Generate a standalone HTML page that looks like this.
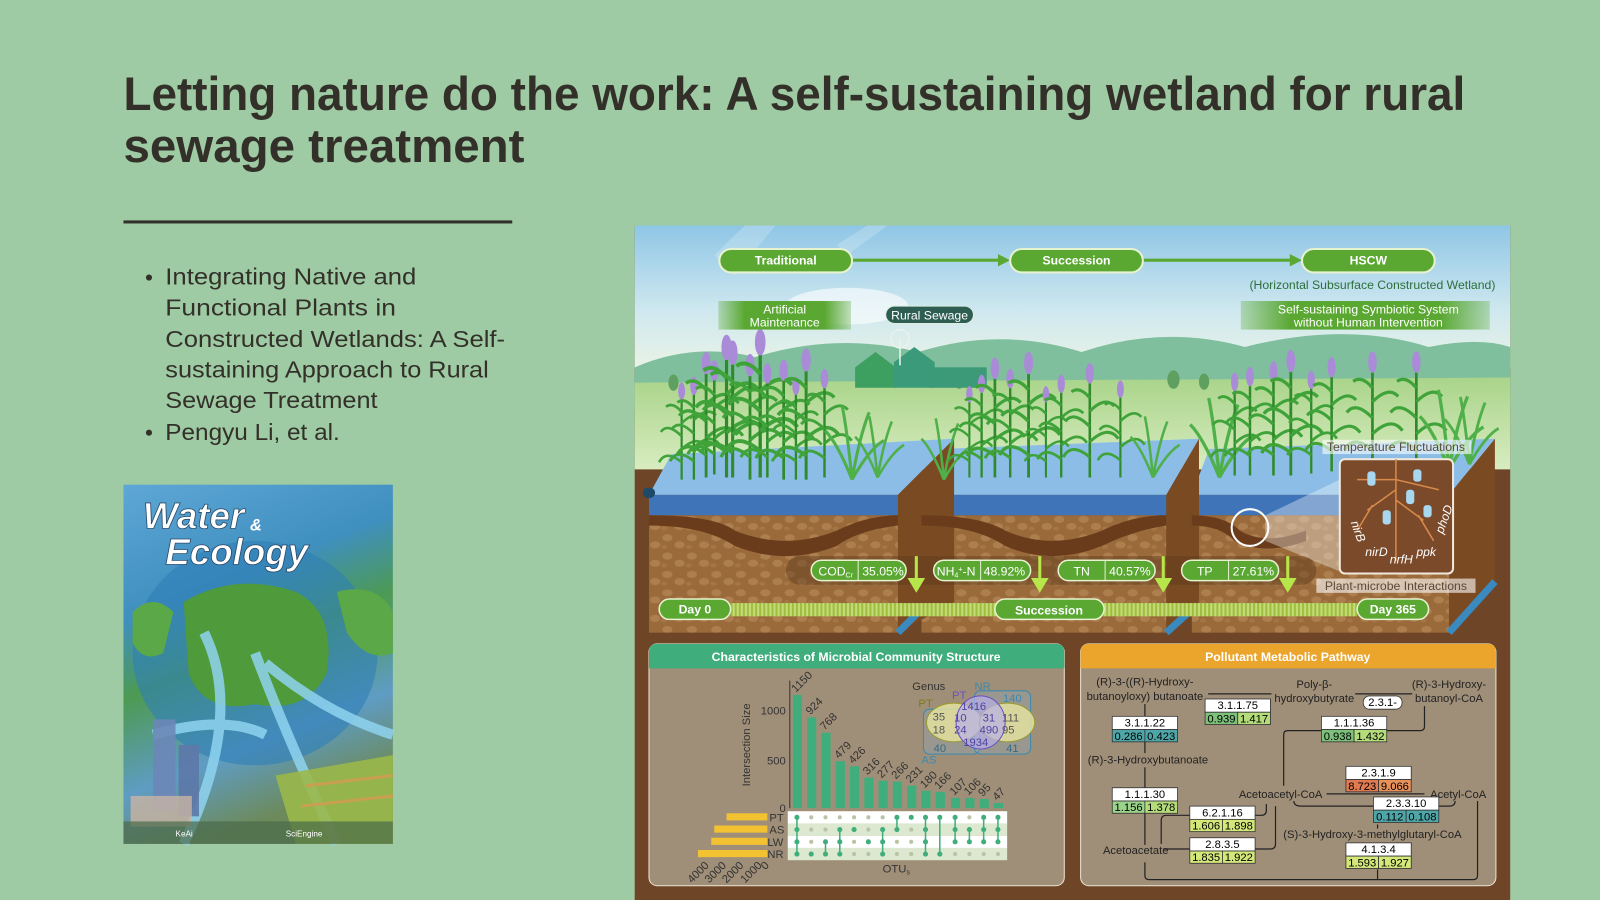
<!DOCTYPE html>
<html><head><meta charset="utf-8"><style>
html,body{margin:0;padding:0;background:#9ecba3;width:1600px;height:900px;overflow:hidden}
svg{display:block}
text{font-family:"Liberation Sans",sans-serif}
</style></head><body>
<svg width="1600" height="900" viewBox="0 0 1568 882" xmlns="http://www.w3.org/2000/svg">
<defs>
<linearGradient id="sky" x1="0" y1="0" x2="0" y2="1"><stop offset="0" stop-color="#8fc6e6"/><stop offset="0.6" stop-color="#cfe8ef"/><stop offset="1" stop-color="#e9f3e6"/></linearGradient>
<linearGradient id="field" x1="0" y1="0" x2="0" y2="1"><stop offset="0" stop-color="#a9d48a"/><stop offset="1" stop-color="#d8ecc0"/></linearGradient>
<linearGradient id="gbox" x1="0" y1="0" x2="1" y2="0"><stop offset="0" stop-color="#5aa832" stop-opacity="0.3"/><stop offset="0.2" stop-color="#5aa832"/><stop offset="0.8" stop-color="#5aa832"/><stop offset="1" stop-color="#5aa832" stop-opacity="0.3"/></linearGradient>
<pattern id="pebble" width="24" height="18" patternUnits="userSpaceOnUse"><rect width="24" height="18" fill="#9a6a3a"/><ellipse cx="6" cy="5" rx="5" ry="3.5" fill="#ad7f4e"/><ellipse cx="18" cy="12" rx="5" ry="3.5" fill="#ad7f4e"/><ellipse cx="3" cy="14" rx="3" ry="2" fill="#a57545"/></pattern>
<linearGradient id="cover" x1="0" y1="0" x2="0.3" y2="1"><stop offset="0" stop-color="#5ea7d6"/><stop offset="0.35" stop-color="#3f8fbf"/><stop offset="0.55" stop-color="#4d9a52"/><stop offset="0.8" stop-color="#5f9cc4"/><stop offset="1" stop-color="#6c8a5a"/></linearGradient>
<pattern id="stripe" width="4" height="20" patternUnits="userSpaceOnUse"><rect width="4" height="20" fill="#c8da7a"/><rect width="2" height="20" fill="#9cbf3e"/></pattern>
<g id="plant">
<path d="M0 0 L0 -95" stroke="#2f8a2a" stroke-width="2.5" fill="none"/>
<path d="M0 -20 Q-18 -35 -26 -20 M0 -35 Q18 -52 28 -38 M0 -50 Q-16 -66 -24 -55 M0 -65 Q15 -80 24 -70 M0 -78 Q-10 -90 -18 -84" stroke="#3fa33a" stroke-width="3" fill="none"/>
<ellipse cx="0" cy="-102" rx="4" ry="10" fill="#a98bd8"/>
</g>
<g id="grass">
<path d="M0 0 Q-12 -30 -22 -40 M0 0 Q-4 -40 -8 -60 M0 0 Q6 -35 14 -55 M0 0 Q14 -25 26 -32" stroke="#4fb04a" stroke-width="2.5" fill="none"/>
</g>
</defs>

<text x="121" y="108" font-size="46" font-weight="bold" fill="#33302a" textLength="1315" lengthAdjust="spacingAndGlyphs">Letting nature do the work: A self-sustaining wetland for rural</text>
<text x="121" y="159" font-size="46" font-weight="bold" fill="#33302a" textLength="393" lengthAdjust="spacingAndGlyphs">sewage treatment</text>
<rect x="121" y="216" width="381" height="3" fill="#33302a"/>

<g font-size="23" fill="#33302a">
<circle cx="146" cy="272" r="3"/>
<text x="162" y="279" textLength="246" lengthAdjust="spacingAndGlyphs">Integrating Native and</text>
<text x="162" y="309" textLength="226" lengthAdjust="spacingAndGlyphs">Functional Plants in</text>
<text x="162" y="340" textLength="333" lengthAdjust="spacingAndGlyphs">Constructed Wetlands: A Self-</text>
<text x="162" y="370" textLength="317" lengthAdjust="spacingAndGlyphs">sustaining Approach to Rural</text>
<text x="162" y="400" textLength="208" lengthAdjust="spacingAndGlyphs">Sewage Treatment</text>
<circle cx="146" cy="424" r="3"/>
<text x="162" y="431" textLength="171" lengthAdjust="spacingAndGlyphs">Pengyu Li, et al.</text>
</g>

<!-- cover -->
<rect x="121" y="475" width="264" height="352" fill="url(#cover)"/>
<ellipse cx="250" cy="640" rx="120" ry="110" fill="#2f7fb8" opacity="0.6"/>
<path d="M180 590 Q230 560 290 580 Q330 600 320 660 Q300 700 250 690 Q200 700 185 660 Z" fill="#4f9a3a"/>
<path d="M130 600 Q150 580 170 600 L160 640 Q140 650 130 630Z" fill="#5aa848"/>
<path d="M330 580 Q370 570 385 600 L385 640 Q360 650 340 620Z" fill="#5aa848"/>
<path d="M200 620 Q240 700 180 827 M250 640 Q280 720 330 827 M260 650 Q320 700 385 720 M150 720 Q220 700 260 720" stroke="#8fd3f0" stroke-width="10" fill="none" opacity="0.85"/>
<rect x="150" y="705" width="22" height="90" fill="#6b87b8" opacity="0.9"/>
<rect x="175" y="730" width="20" height="70" fill="#5d78a8" opacity="0.9"/>
<rect x="128" y="780" width="60" height="30" fill="#c9b4a4" opacity="0.8"/>
<path d="M270 760 L385 740 L385 827 L290 827Z" fill="#9ab84a" opacity="0.9"/>
<path d="M300 770 L385 760 M295 790 L385 780" stroke="#c8a050" stroke-width="3"/>
<rect x="121" y="805" width="264" height="22" fill="#4a6a4a" opacity="0.7"/>
<text x="140" y="518" font-size="36" font-weight="bold" font-style="italic" fill="#fff" stroke="#2a4a6a" stroke-width="0.8">Water</text>
<text x="245" y="520" font-size="16" font-weight="bold" font-style="italic" fill="#fff">&amp;</text>
<text x="162" y="553" font-size="36" font-weight="bold" font-style="italic" fill="#fff" stroke="#2a4a6a" stroke-width="0.8">Ecology</text>
<text x="172" y="820" font-size="8" fill="#fff">KeAi</text>
<text x="280" y="820" font-size="8" fill="#fff">SciEngine</text>

<!-- FIGURE -->
<rect x="622" y="221" width="858" height="661" fill="#6e4526"/>
<rect x="622" y="221" width="858" height="140" fill="url(#sky)"/>
<path d="M700 250 L730 221 L760 221 L720 270Z M820 240 L850 221 L870 221 L830 250Z" fill="#fff" opacity="0.2"/>
<ellipse cx="830" cy="300" rx="60" ry="18" fill="#fff" opacity="0.6"/>
<path d="M622 360 Q680 335 740 350 Q820 325 900 345 Q980 320 1060 345 Q1140 318 1220 340 Q1320 315 1400 340 Q1450 330 1480 340 L1480 400 L622 400Z" fill="#7fbf9e"/>
<path d="M622 375 L1480 370 L1480 460 L622 460Z" fill="url(#field)"/>
<g fill="#5fa060"><ellipse cx="660" cy="375" rx="5" ry="8"/><ellipse cx="940" cy="372" rx="5" ry="9"/><ellipse cx="1150" cy="372" rx="6" ry="9"/><ellipse cx="1180" cy="374" rx="5" ry="8"/></g>
<path d="M838 380 L838 360 L858 345 L878 360 L878 380Z" fill="#3da060"/>
<path d="M876 380 L876 355 L896 340 L916 355 L916 380Z" fill="#3a9a7a"/>
<rect x="912" y="360" width="55" height="20" fill="#3c9a78"/>
<circle cx="882" cy="332" r="9" fill="none" stroke="#e8f3ee" stroke-width="1.5"/>
<line x1="882" y1="332" x2="882" y2="358" stroke="#e8f3ee" stroke-width="1.5"/>
<g>
<path d="M636 485 L658 445 L935 430 L880 485Z" fill="#8bbde6"/>
<path d="M903 485 L922 440 L1175 430 L1143 485Z" fill="#8bbde6"/>
<path d="M1168 485 L1185 440 L1465 430 L1420 485Z" fill="#8bbde6"/>
<rect x="636" y="485" width="244" height="20" fill="#3f75b8"/>
<rect x="903" y="485" width="240" height="20" fill="#3f75b8"/>
<rect x="1168" y="485" width="252" height="20" fill="#3f75b8"/>
<rect x="636" y="505" width="244" height="115" fill="url(#pebble)"/>
<rect x="903" y="505" width="240" height="115" fill="url(#pebble)"/>
<rect x="1168" y="505" width="252" height="115" fill="url(#pebble)"/>
<path d="M880 485 L935 430 L935 590 L880 620Z M1143 485 L1175 430 L1175 590 L1143 620Z M1420 485 L1465 430 L1465 575 L1420 620Z" fill="#7a4a22"/>
<path d="M636 505 Q700 505 720 520 Q770 540 820 520 Q850 505 880 505 L880 515 Q840 520 820 535 Q770 555 720 535 Q690 515 636 515Z" fill="#6a3c1c"/>
<path d="M903 505 Q960 505 985 520 Q1030 540 1080 520 Q1110 505 1143 505 L1143 515 Q1110 520 1080 535 Q1030 555 985 535 Q955 515 903 515Z" fill="#6a3c1c"/>
<path d="M1168 505 Q1200 505 1215 520 Q1240 535 1280 520 L1280 530 Q1240 545 1210 530 Q1195 515 1168 515Z" fill="#6a3c1c"/>
<circle cx="1225" cy="517" r="18" fill="none" stroke="#fff" stroke-width="2"/>
<path d="M1240 505 L1313 470 L1313 560 L1240 530Z" fill="#fff" opacity="0.35"/>
<rect x="630" y="478" width="12" height="10" rx="5" fill="#1e4a6a"/>
<path d="M1420 620 L1465 570" stroke="#3a8ac0" stroke-width="7"/>
<path d="M880 620 L900 600 M1143 620 L1165 600" stroke="#3a8ac0" stroke-width="7"/>
</g>
<g>
<use href="#plant" transform="translate(668,470) scale(0.85)"/>
<use href="#plant" transform="translate(680,470) scale(0.9)"/>
<use href="#plant" transform="translate(692,468) scale(1.1)"/>
<use href="#plant" transform="translate(700,465) scale(1.0)"/>
<use href="#plant" transform="translate(712,468) scale(1.25)"/>
<use href="#plant" transform="translate(718,468) scale(1.2)"/>
<use href="#plant" transform="translate(735,470) scale(1.1)"/>
<use href="#plant" transform="translate(745,468) scale(1.3)"/>
<use href="#plant" transform="translate(752,468) scale(1.0)"/>
<use href="#plant" transform="translate(768,470) scale(1.05)"/>
<use href="#plant" transform="translate(780,470) scale(0.9)"/>
<use href="#plant" transform="translate(790,470) scale(1.15)"/>
<use href="#plant" transform="translate(808,468) scale(0.95)"/>
<use href="#grass" transform="translate(835,470) scale(1.2)"/>
<use href="#grass" transform="translate(860,468)"/>
<use href="#grass" transform="translate(925,470)"/>
<use href="#plant" transform="translate(950,468) scale(0.8)"/>
<use href="#plant" transform="translate(962,468) scale(0.9)"/>
<use href="#plant" transform="translate(975,468) scale(1.05)"/>
<use href="#plant" transform="translate(990,468) scale(0.95)"/>
<use href="#plant" transform="translate(1008,468) scale(1.1)"/>
<use href="#plant" transform="translate(1025,468) scale(0.8)"/>
<use href="#plant" transform="translate(1040,468) scale(0.9)"/>
<use href="#plant" transform="translate(1068,468) scale(1.0)"/>
<use href="#plant" transform="translate(1098,468) scale(0.85)"/>
<use href="#grass" transform="translate(1130,468)"/>
<use href="#grass" transform="translate(1195,468) scale(1.3)"/>
<use href="#plant" transform="translate(1210,466) scale(0.9)"/>
<use href="#plant" transform="translate(1225,466) scale(0.95)"/>
<use href="#plant" transform="translate(1248,466) scale(1.0)"/>
<use href="#plant" transform="translate(1265,466) scale(1.1)"/>
<use href="#plant" transform="translate(1285,464) scale(0.9)"/>
<use href="#plant" transform="translate(1305,462) scale(1.0)"/>
<use href="#plant" transform="translate(1345,462) scale(1.05)"/>
<use href="#plant" transform="translate(1388,462) scale(1.05)"/>
<use href="#grass" transform="translate(1420,460) scale(1.3)"/>
<use href="#grass" transform="translate(1440,455) scale(1.1)"/>
</g>
<line x1="834" y1="255" x2="982" y2="255" stroke="#5aa832" stroke-width="3"/>
<path d="M978 249 L990 255 L978 261Z" fill="#5aa832"/>
<line x1="1120" y1="255" x2="1268" y2="255" stroke="#5aa832" stroke-width="3"/>
<path d="M1264 249 L1276 255 L1264 261Z" fill="#5aa832"/>
<g font-size="12" font-weight="bold" fill="#fff" text-anchor="middle">
<rect x="705" y="244" width="130" height="23" rx="11.5" fill="#5aa832" stroke="#e6f2d0" stroke-width="2"/>
<text x="770" y="259">Traditional</text>
<rect x="990" y="244" width="130" height="23" rx="11.5" fill="#5aa832" stroke="#e6f2d0" stroke-width="2"/>
<text x="1055" y="259">Succession</text>
<rect x="1276" y="244" width="130" height="23" rx="11.5" fill="#5aa832" stroke="#e6f2d0" stroke-width="2"/>
<text x="1341" y="259">HSCW</text>
</g>
<text x="1345" y="283" font-size="12" fill="#2e6e3a" text-anchor="middle">(Horizontal Subsurface Constructed Wetland)</text>
<rect x="704" y="295" width="130" height="28" fill="url(#gbox)"/>
<text x="769" y="307" font-size="12" fill="#fff" text-anchor="middle">Artificial</text>
<text x="769" y="320" font-size="12" fill="#fff" text-anchor="middle">Maintenance</text>
<rect x="1216" y="295" width="244" height="28" fill="url(#gbox)"/>
<text x="1341" y="307" font-size="12" fill="#fff" text-anchor="middle">Self-sustaining Symbiotic System</text>
<text x="1341" y="320" font-size="12" fill="#fff" text-anchor="middle">without Human Intervention</text>
<rect x="868" y="300" width="86" height="17" rx="8.5" fill="#2e5e52" stroke="#dbeee0"/>
<text x="911" y="313" font-size="12" fill="#fff" text-anchor="middle">Rural Sewage</text>
<rect x="1296" y="431" width="146" height="14" fill="#fff" opacity="0.6"/>
<text x="1368" y="442" font-size="12" fill="#5a4a3a" text-anchor="middle">Temperature Fluctuations</text>
<rect x="1313" y="450" width="111" height="112" rx="5" fill="#7a4a2a" stroke="#f0e8dc" stroke-width="2"/>
<path d="M1368 450 L1368 550 M1368 480 L1340 500 M1368 490 L1395 510 M1368 470 L1330 470 M1368 470 L1410 480 M1345 495 L1330 520 M1390 505 L1405 530" stroke="#d98a4a" stroke-width="1.5" fill="none"/>
<g fill="#a8d8f0"><rect x="1340" y="462" width="8" height="14" rx="3"/><rect x="1378" y="480" width="8" height="14" rx="3"/><rect x="1355" y="500" width="8" height="14" rx="3"/><rect x="1395" y="495" width="8" height="12" rx="3"/><rect x="1385" y="460" width="8" height="12" rx="3"/></g>
<g font-size="12" font-style="italic" fill="#fff"><text x="1325" y="520" transform="rotate(70 1330 515)">nirB</text><text x="1338" y="545">nirD</text><text x="1362" y="552">nrfH</text><text x="1388" y="545">ppk</text><text x="1408" y="525" transform="rotate(-70 1410 520)">phoD</text></g>
<rect x="1290" y="567" width="156" height="14" fill="#fff" opacity="0.6"/>
<text x="1368" y="578" font-size="12" fill="#5a4a3a" text-anchor="middle">Plant-microbe Interactions</text>
<rect x="770" y="545" width="520" height="28" rx="14" fill="#5a3a1c" opacity="0.45"/>
<g font-size="12" fill="#fff">
<rect x="795" y="549" width="93" height="20" rx="10" fill="#5aa832" stroke="#e6f2d0" stroke-width="1.5"/><line x1="841" y1="549" x2="841" y2="569" stroke="#e6f2d0"/>
<text x="802" y="564">COD<tspan font-size="7" dy="2">Cr</tspan></text><text x="845" y="564">35.05%</text>
<rect x="915" y="549" width="95" height="20" rx="10" fill="#5aa832" stroke="#e6f2d0" stroke-width="1.5"/><line x1="961" y1="549" x2="961" y2="569" stroke="#e6f2d0"/>
<text x="918" y="564">NH<tspan font-size="7" dy="2">4</tspan><tspan font-size="7" dy="-6">+</tspan><tspan dy="4">-N</tspan></text><text x="964" y="564">48.92%</text>
<rect x="1037" y="549" width="95" height="20" rx="10" fill="#5aa832" stroke="#e6f2d0" stroke-width="1.5"/><line x1="1083" y1="549" x2="1083" y2="569" stroke="#e6f2d0"/>
<text x="1052" y="564">TN</text><text x="1087" y="564">40.57%</text>
<rect x="1158" y="549" width="95" height="20" rx="10" fill="#5aa832" stroke="#e6f2d0" stroke-width="1.5"/><line x1="1204" y1="549" x2="1204" y2="569" stroke="#e6f2d0"/>
<text x="1173" y="564">TP</text><text x="1208" y="564">27.61%</text>
</g>
<g stroke="#b6e64a" stroke-width="3" fill="#b6e64a">
<line x1="898" y1="545" x2="898" y2="570"/><path d="M892 568 L898 578 L904 568Z"/>
<line x1="1019" y1="545" x2="1019" y2="570"/><path d="M1013 568 L1019 578 L1025 568Z"/>
<line x1="1140" y1="545" x2="1140" y2="570"/><path d="M1134 568 L1140 578 L1146 568Z"/>
<line x1="1262" y1="545" x2="1262" y2="570"/><path d="M1256 568 L1262 578 L1268 568Z"/>
</g>
<rect x="716" y="591" width="614" height="13" fill="url(#stripe)"/>
<g font-size="12" font-weight="bold" fill="#fff" text-anchor="middle">
<rect x="646" y="587" width="70" height="20" rx="10" fill="#5aa832" stroke="#e6f2d0" stroke-width="1.5"/><text x="681" y="601">Day 0</text>
<rect x="975" y="587" width="107" height="20" rx="10" fill="#5aa832" stroke="#e6f2d0" stroke-width="1.5"/><text x="1028" y="602">Succession</text>
<rect x="1330" y="587" width="70" height="20" rx="10" fill="#5aa832" stroke="#e6f2d0" stroke-width="1.5"/><text x="1365" y="601">Day 365</text>
</g>

<rect x="636" y="631" width="407" height="237" rx="8" fill="#a08f78" stroke="#eee3d0"/>
<path d="M636 655 L636 639 Q636 631 644 631 L1035 631 Q1043 631 1043 639 L1043 655Z" fill="#3fae7c"/>
<text x="839" y="648" font-size="12" font-weight="bold" fill="#fff" text-anchor="middle">Characteristics of Microbial Community Structure</text>
<rect x="1059" y="631" width="407" height="237" rx="8" fill="#a08f78" stroke="#eee3d0"/>
<path d="M1059 655 L1059 639 Q1059 631 1067 631 L1458 631 Q1466 631 1466 639 L1466 655Z" fill="#eba52c"/>
<text x="1262" y="648" font-size="12" font-weight="bold" fill="#fff" text-anchor="middle">Pollutant Metabolic Pathway</text>

<g font-size="11" fill="#333">
<line x1="774" y1="667" x2="774" y2="792" stroke="#333"/>
<text x="770" y="700" text-anchor="end">1000</text><text x="770" y="749" text-anchor="end">500</text><text x="770" y="796" text-anchor="end">0</text>
<text x="735" y="730" font-size="11" text-anchor="middle" transform="rotate(-90 735 730)">Intersection Size</text>
</g>
<g fill="#3fae7c">
<rect x="777" y="681" width="9" height="111"/><rect x="791" y="703" width="9" height="89"/><rect x="805" y="718" width="9" height="74"/><rect x="819" y="746" width="9" height="46"/><rect x="833" y="751" width="9" height="41"/><rect x="847" y="762" width="9" height="30"/><rect x="861" y="765" width="9" height="27"/><rect x="875" y="766" width="9" height="26"/><rect x="889" y="770" width="9" height="22"/><rect x="903" y="775" width="9" height="17"/><rect x="917" y="776" width="9" height="16"/><rect x="932" y="782" width="9" height="10"/><rect x="946" y="782" width="9" height="10"/><rect x="960" y="783" width="9" height="9"/><rect x="974" y="787" width="9" height="5"/>
</g>
<g font-size="11" fill="#333">
<text transform="translate(780,679) rotate(-45)">1150</text><text transform="translate(794,701) rotate(-45)">924</text><text transform="translate(808,716) rotate(-45)">768</text><text transform="translate(822,744) rotate(-45)">479</text><text transform="translate(836,749) rotate(-45)">426</text><text transform="translate(850,760) rotate(-45)">316</text><text transform="translate(864,763) rotate(-45)">277</text><text transform="translate(878,764) rotate(-45)">266</text><text transform="translate(892,768) rotate(-45)">231</text><text transform="translate(906,773) rotate(-45)">180</text><text transform="translate(920,774) rotate(-45)">166</text><text transform="translate(935,780) rotate(-45)">107</text><text transform="translate(949,780) rotate(-45)">106</text><text transform="translate(963,781) rotate(-45)">95</text><text transform="translate(977,785) rotate(-45)">47</text>
</g>
<rect x="772" y="795" width="215" height="12" fill="#fff"/><rect x="772" y="807" width="215" height="12" fill="#dce9d0"/><rect x="772" y="819" width="215" height="12" fill="#fff"/><rect x="772" y="831" width="215" height="12" fill="#dce9d0"/>
<g stroke="#3fae7c" stroke-width="1.5">
<line x1="781" y1="801" x2="781" y2="837"/><line x1="809" y1="825" x2="809" y2="837"/><line x1="823" y1="813" x2="823" y2="837"/><line x1="865" y1="813" x2="865" y2="837"/><line x1="879" y1="801" x2="879" y2="813"/><line x1="907" y1="801" x2="907" y2="837"/><line x1="921" y1="801" x2="921" y2="837"/><line x1="936" y1="801" x2="936" y2="825"/><line x1="950" y1="813" x2="950" y2="825"/><line x1="964" y1="801" x2="964" y2="825"/><line x1="978" y1="801" x2="978" y2="825"/>
</g>
<g fill="#b8c4a4">
<circle cx="795" cy="801" r="2"/><circle cx="809" cy="801" r="2"/><circle cx="823" cy="801" r="2"/><circle cx="837" cy="801" r="2"/><circle cx="851" cy="801" r="2"/><circle cx="865" cy="801" r="2"/><circle cx="950" cy="801" r="2"/>
<circle cx="795" cy="813" r="2"/><circle cx="809" cy="813" r="2"/><circle cx="851" cy="813" r="2"/><circle cx="893" cy="813" r="2"/>
<circle cx="795" cy="825" r="2"/><circle cx="837" cy="825" r="2"/><circle cx="879" cy="825" r="2"/><circle cx="893" cy="825" r="2"/>
<circle cx="837" cy="837" r="2"/><circle cx="851" cy="837" r="2"/><circle cx="879" cy="837" r="2"/><circle cx="893" cy="837" r="2"/><circle cx="936" cy="837" r="2"/><circle cx="950" cy="837" r="2"/><circle cx="964" cy="837" r="2"/><circle cx="978" cy="837" r="2"/>
</g>
<g fill="#3fae7c">
<circle cx="781" cy="801" r="2.5"/><circle cx="781" cy="813" r="2.5"/><circle cx="781" cy="825" r="2.5"/><circle cx="781" cy="837" r="2.5"/>
<circle cx="795" cy="837" r="2.5"/><circle cx="809" cy="825" r="2.5"/><circle cx="809" cy="837" r="2.5"/>
<circle cx="823" cy="813" r="2.5"/><circle cx="823" cy="825" r="2.5"/><circle cx="823" cy="837" r="2.5"/>
<circle cx="837" cy="813" r="2.5"/><circle cx="851" cy="825" r="2.5"/>
<circle cx="865" cy="813" r="2.5"/><circle cx="865" cy="837" r="2.5"/><circle cx="865" cy="825" r="2.5"/>
<circle cx="879" cy="801" r="2.5"/><circle cx="879" cy="813" r="2.5"/><circle cx="893" cy="801" r="2.5"/>
<circle cx="907" cy="801" r="2.5"/><circle cx="907" cy="813" r="2.5"/><circle cx="907" cy="825" r="2.5"/><circle cx="907" cy="837" r="2.5"/>
<circle cx="921" cy="801" r="2.5"/><circle cx="921" cy="837" r="2.5"/>
<circle cx="936" cy="801" r="2.5"/><circle cx="936" cy="813" r="2.5"/><circle cx="936" cy="825" r="2.5"/>
<circle cx="950" cy="813" r="2.5"/><circle cx="950" cy="825" r="2.5"/>
<circle cx="964" cy="801" r="2.5"/><circle cx="964" cy="813" r="2.5"/><circle cx="964" cy="825" r="2.5"/>
<circle cx="978" cy="801" r="2.5"/><circle cx="978" cy="813" r="2.5"/><circle cx="978" cy="825" r="2.5"/>
</g>
<g fill="#f2c232">
<rect x="712" y="797" width="40" height="7"/><rect x="700" y="809" width="52" height="7"/><rect x="697" y="821" width="55" height="7"/><rect x="684" y="833" width="68" height="7"/>
</g>
<g font-size="11" fill="#333">
<text x="754" y="805">PT</text><text x="754" y="817">AS</text><text x="752" y="829">LW</text><text x="752" y="841">NR</text>
<text transform="translate(678,866) rotate(-45)">4000</text><text transform="translate(695,866) rotate(-45)">3000</text><text transform="translate(712,866) rotate(-45)">2000</text><text transform="translate(730,866) rotate(-45)">1000</text><text transform="translate(750,853) rotate(-45)">0</text>
<text x="865" y="855">OTU<tspan font-size="7" dy="2">s</tspan></text>
</g>
<g font-size="11">
<rect x="905" y="695" width="55" height="44" rx="6" fill="#8aaac0" fill-opacity="0.35" stroke="#3a8ab0"/>
<rect x="955" y="677" width="55" height="62" rx="6" fill="#8aaac0" fill-opacity="0.35" stroke="#3a8ab0"/>
<ellipse cx="935" cy="708" rx="27" ry="19" fill="#e8e6a0" fill-opacity="0.8" stroke="#9a9a30"/>
<ellipse cx="987" cy="708" rx="27" ry="19" fill="#e8e6a0" fill-opacity="0.8" stroke="#9a9a30"/>
<ellipse cx="961" cy="708" rx="24" ry="26" fill="#b8b0e8" fill-opacity="0.7" stroke="#6a50c0"/>
<text x="894" y="676" fill="#333">Genus</text><text x="955" y="676" fill="#3a8ab0">NR</text>
<text x="933" y="685" fill="#6a50c0">PT</text><text x="900" y="693" fill="#7a7a20">PT</text>
<text x="983" y="688" fill="#3a8ab0">140</text><text x="942" y="696" fill="#5040a0">1416</text>
<text x="914" y="706" fill="#555">35</text><text x="935" y="707" fill="#5040a0">10</text><text x="963" y="707" fill="#5040a0">31</text><text x="982" y="707" fill="#555">111</text>
<text x="914" y="719" fill="#555">18</text><text x="935" y="719" fill="#5040a0">24</text><text x="960" y="719" fill="#5040a0">490</text><text x="982" y="719" fill="#555">95</text>
<text x="944" y="731" fill="#5040a0">1934</text>
<text x="915" y="737" fill="#3a6a80">40</text><text x="986" y="737" fill="#3a6a80">41</text>
<text x="903" y="748" fill="#3a8ab0">AS</text>
</g>

<g font-size="11" fill="#222" text-anchor="middle">
<text x="1122" y="672">(R)-3-((R)-Hydroxy-</text><text x="1122" y="686">butanoyloxy) butanoate</text>
<text x="1288" y="674">Poly-β-</text><text x="1288" y="688">hydroxybutyrate</text>
<text x="1420" y="674">(R)-3-Hydroxy-</text><text x="1420" y="688">butanoyl-CoA</text>
<text x="1125" y="748">(R)-3-Hydroxybutanoate</text>
<text x="1255" y="782">Acetoacetyl-CoA</text>
<text x="1429" y="782">Acetyl-CoA</text>
<text x="1345" y="821">(S)-3-Hydroxy-3-methylglutaryl-CoA</text>
<text x="1113" y="837">Acetoacetate</text>
</g>
<g stroke="#222" stroke-width="1.2" fill="none">
<line x1="1184" y1="680" x2="1246" y2="680"/><line x1="1328" y1="680" x2="1384" y2="680"/>
<line x1="1122" y1="690" x2="1122" y2="738"/><line x1="1122" y1="752" x2="1122" y2="828"/>
<path d="M1396 692 L1396 712 Q1396 716 1392 716 L1262 716 Q1258 716 1258 720 L1258 770"/>
<line x1="1300" y1="778" x2="1396" y2="778"/>
<path d="M1268 785 Q1268 790 1275 790 L1420 790 Q1426 790 1426 785"/>
<line x1="1350" y1="808" x2="1350" y2="812"/>
<path d="M1140 832 L1245 832 Q1250 832 1250 827 L1250 790"/>
<path d="M1138 827 L1138 804 Q1138 799 1143 799 L1236 799 Q1241 799 1241 794 L1241 788"/>
<path d="M1122 845 L1122 858 Q1122 862 1126 862 L1444 862 Q1448 862 1448 858 L1448 785"/>
<line x1="1350" y1="852" x2="1350" y2="862"/>
</g>
<g font-size="11" text-anchor="middle">
<rect x="1090" y="702" width="64" height="13" fill="#fff" stroke="#333" stroke-width="0.8"/><rect x="1090" y="715" width="32" height="12" fill="#4fa6a8" stroke="#333" stroke-width="0.8"/><rect x="1122" y="715" width="32" height="12" fill="#4fa6a8" stroke="#333" stroke-width="0.8"/>
<text x="1122" y="712">3.1.1.22</text><text x="1106" y="725">0.286</text><text x="1138" y="725">0.423</text>
<rect x="1181" y="685" width="64" height="13" fill="#fff" stroke="#333" stroke-width="0.8"/><rect x="1181" y="698" width="32" height="12" fill="#7cc07a" stroke="#333" stroke-width="0.8"/><rect x="1213" y="698" width="32" height="12" fill="#b5dc7a" stroke="#333" stroke-width="0.8"/>
<text x="1213" y="695">3.1.1.75</text><text x="1197" y="708">0.939</text><text x="1229" y="708">1.417</text>
<rect x="1295" y="702" width="64" height="13" fill="#fff" stroke="#333" stroke-width="0.8"/><rect x="1295" y="715" width="32" height="12" fill="#7cc07a" stroke="#333" stroke-width="0.8"/><rect x="1327" y="715" width="32" height="12" fill="#b5dc7a" stroke="#333" stroke-width="0.8"/>
<text x="1327" y="712">1.1.1.36</text><text x="1311" y="725">0.938</text><text x="1343" y="725">1.432</text>
<rect x="1336" y="682" width="38" height="13" rx="6" fill="#fff" stroke="#333" stroke-width="0.8"/><text x="1355" y="692">2.3.1-</text>
<rect x="1319" y="751" width="64" height="13" fill="#fff" stroke="#333" stroke-width="0.8"/><rect x="1319" y="764" width="32" height="12" fill="#e07a50" stroke="#333" stroke-width="0.8"/><rect x="1351" y="764" width="32" height="12" fill="#e8905a" stroke="#333" stroke-width="0.8"/>
<text x="1351" y="761">2.3.1.9</text><text x="1335" y="774">8.723</text><text x="1367" y="774">9.066</text>
<rect x="1090" y="772" width="64" height="13" fill="#fff" stroke="#333" stroke-width="0.8"/><rect x="1090" y="785" width="32" height="12" fill="#9ad48a" stroke="#333" stroke-width="0.8"/><rect x="1122" y="785" width="32" height="12" fill="#b5dc7a" stroke="#333" stroke-width="0.8"/>
<text x="1122" y="782">1.1.1.30</text><text x="1106" y="795">1.156</text><text x="1138" y="795">1.378</text>
<rect x="1166" y="790" width="64" height="13" fill="#fff" stroke="#333" stroke-width="0.8"/><rect x="1166" y="803" width="32" height="12" fill="#d4e87a" stroke="#333" stroke-width="0.8"/><rect x="1198" y="803" width="32" height="12" fill="#d4e87a" stroke="#333" stroke-width="0.8"/>
<text x="1198" y="800">6.2.1.16</text><text x="1182" y="813">1.606</text><text x="1214" y="813">1.898</text>
<rect x="1346" y="781" width="64" height="13" fill="#fff" stroke="#333" stroke-width="0.8"/><rect x="1346" y="794" width="32" height="12" fill="#4fa6a8" stroke="#333" stroke-width="0.8"/><rect x="1378" y="794" width="32" height="12" fill="#4fa6a8" stroke="#333" stroke-width="0.8"/>
<text x="1378" y="791">2.3.3.10</text><text x="1362" y="804">0.112</text><text x="1394" y="804">0.108</text>
<rect x="1166" y="821" width="64" height="13" fill="#fff" stroke="#333" stroke-width="0.8"/><rect x="1166" y="834" width="32" height="12" fill="#d4e87a" stroke="#333" stroke-width="0.8"/><rect x="1198" y="834" width="32" height="12" fill="#d4e87a" stroke="#333" stroke-width="0.8"/>
<text x="1198" y="831">2.8.3.5</text><text x="1182" y="844">1.835</text><text x="1214" y="844">1.922</text>
<rect x="1319" y="826" width="64" height="13" fill="#fff" stroke="#333" stroke-width="0.8"/><rect x="1319" y="839" width="32" height="12" fill="#d4e87a" stroke="#333" stroke-width="0.8"/><rect x="1351" y="839" width="32" height="12" fill="#d4e87a" stroke="#333" stroke-width="0.8"/>
<text x="1351" y="836">4.1.3.4</text><text x="1335" y="849">1.593</text><text x="1367" y="849">1.927</text>
</g>
</svg>
</body></html>
